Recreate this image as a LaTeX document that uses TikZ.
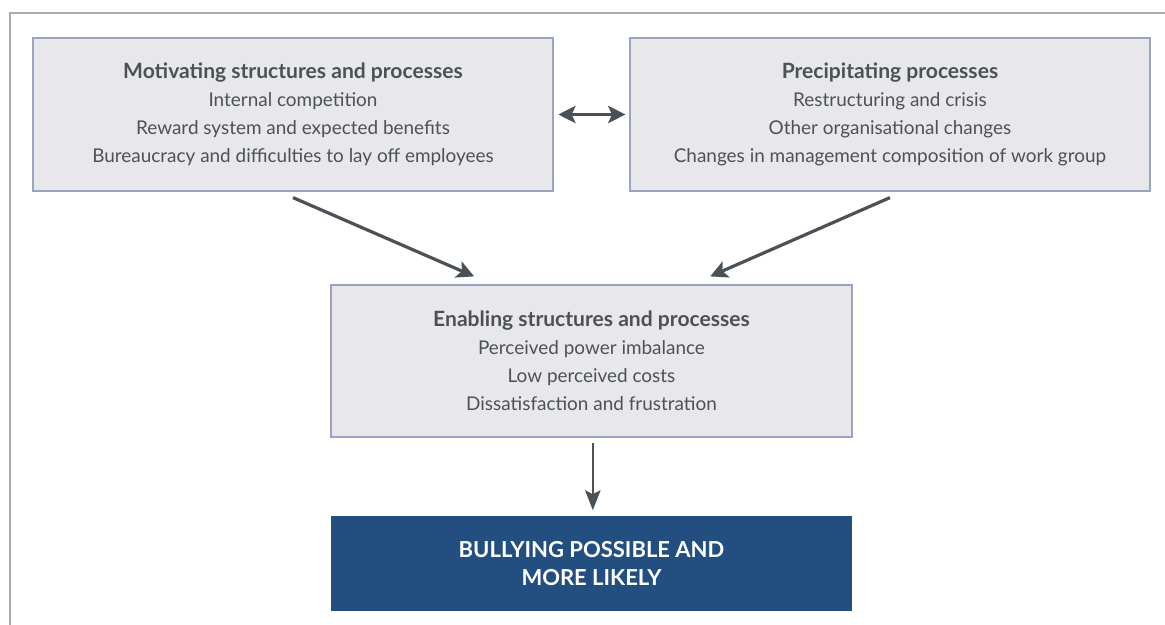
\documentclass[tikz,border=0pt]{standalone}
\usepackage{fontspec}
\setmainfont{Lato}
\usetikzlibrary{arrows.meta,positioning}

\definecolor{boxfill}{HTML}{E8E8EA}
\definecolor{boxline}{HTML}{9AA3C0}
\definecolor{textgrey}{HTML}{4B5257}
\definecolor{bullyblue}{HTML}{224F80}
\definecolor{framegrey}{HTML}{ABABAB}

\newcommand{\heading}[1]{{\fontsize{15.8}{21}\selectfont\bfseries #1}}

\tikzset{
  factor/.style={draw=boxline, fill=boxfill, line width=0.9pt, text=textgrey,
    align=center, inner sep=0pt, minimum width=390pt, minimum height=114.75pt,
    font=\fontsize{14.2}{21}\selectfont},
  result/.style={fill=bullyblue, text=white, align=center, inner sep=0pt,
    minimum width=390.75pt, minimum height=71.25pt,
    font=\fontsize{16.5}{21}\selectfont\bfseries},
  link/.style={draw=textgrey, line width=2.4pt,
    -{Stealth[length=13pt,width=13pt,inset=3pt]}},
}

\begin{document}
\begin{tikzpicture}[x=0.75pt,y=-0.75pt]
        \useasboundingbox (0,0) rectangle (1165,625);
        % page frame
        \draw[framegrey, line width=0.9pt] (10,625) -- (10,13) -- (1165,13);

        \node[factor] (motivating) at (293,114.5)
                {\heading{Motivating structures and processes}\\
                 Internal competition\\
                 Reward system and expected benefits\\
                 Bureaucracy and difficulties to lay off employees};
        \node[factor] (precipitating) at (890,114.5)
                {\heading{Precipitating processes}\\
                 Restructuring and crisis\\
                 Other organisational changes\\
                 Changes in management composition of work group};
        \node[factor, minimum width=390.75pt, minimum height=114pt] (enabling) at (591.5,361)
                {\heading{Enabling structures and processes}\\
                 Perceived power imbalance\\
                 Low perceived costs\\
                 Dissatisfaction and frustration};
        \node[result] (bullying) [below=58.5pt of enabling]
                {BULLYING POSSIBLE AND\\ MORE LIKELY};

        \draw[link, {Stealth[length=13pt,width=13pt,inset=3pt]}-{Stealth[length=13pt,width=13pt,inset=3pt]},
              shorten <=3.5pt, shorten >=3pt] (motivating) -- (precipitating);
        \draw[link] ([yshift=-4.5pt]motivating.south) -- ([xshift=-88pt, yshift=6pt]enabling.north);
        \draw[link] ([yshift=-4.5pt]precipitating.south) -- ([xshift=89pt, yshift=6pt]enabling.north);
        \draw[link, line width=2pt, -{Stealth[length=15pt,width=11.5pt,inset=3pt]}]
              ([xshift=1pt, yshift=-4pt]enabling.south) -- ([xshift=1pt, yshift=4pt]bullying.north);
\end{tikzpicture}
\end{document}
